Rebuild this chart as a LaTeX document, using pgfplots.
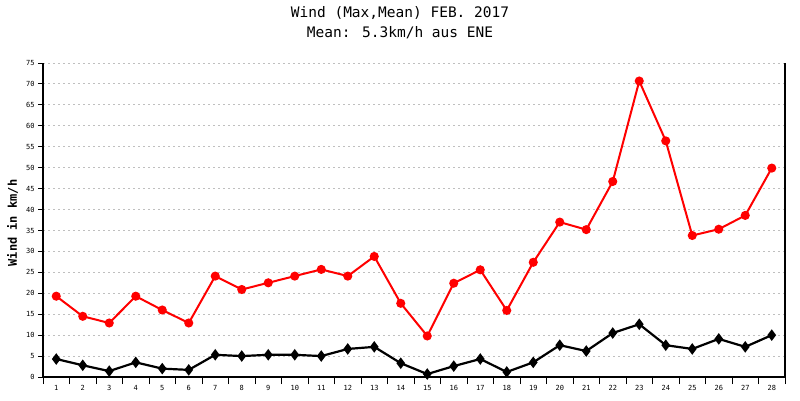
\documentclass[border=0pt]{standalone}
\usepackage{pgfplots}
\pgfplotsset{compat=1.18}
\usepackage{fontspec}
\setmainfont{DejaVu Sans Mono}

% daily wind, Feb 2017: max and mean in km/h
\pgfplotstableread{
day max mean
1  19.3 4.3
2  14.5 2.8
3  12.9 1.4
4  19.3 3.5
5  16.0 2.0
6  12.9 1.7
7  24.1 5.3
8  20.9 5.0
9  22.5 5.3
10 24.1 5.3
11 25.7 5.0
12 24.1 6.7
13 28.8 7.2
14 17.6 3.3
15 9.8  0.7
16 22.4 2.6
17 25.6 4.3
18 15.9 1.2
19 27.4 3.5
20 37.0 7.6
21 35.2 6.2
22 46.7 10.5
23 70.7 12.6
24 56.4 7.6
25 33.8 6.7
26 35.3 9.1
27 38.6 7.2
28 49.9 10.0
}\winddata

\begin{document}
\begin{tikzpicture}
\path[use as bounding box] (0,0) rectangle (800pt,400pt);
\node[anchor=base] at (400pt,382pt) {\fontsize{14.5}{16}\selectfont Wind (Max,Mean) FEB. 2017};
\node[anchor=base] at (400pt,362.3pt) {\fontsize{14.5}{16}\selectfont Mean: 5.3km/h aus ENE};
\node[rotate=90] at (12.5pt,177pt) {\fontsize{12}{14}\selectfont\bfseries Wind in km/h};
\begin{axis}[
  at={(43pt,23pt)}, anchor=south west,
  scale only axis, width=742pt, height=314pt,
  xmin=0.5, xmax=28.5, ymin=0, ymax=75,
  xtick={1,...,28}, minor xtick={0.5,1.5,...,28.5},
  ytick={0,5,...,75},
  tick align=outside, xtick pos=bottom, ytick pos=left,
  major tick length=5pt, minor tick length=7pt,
  major x tick style={draw=none},
  every tick/.style={black, line width=1pt},
  axis line style={draw=none},
  ymajorgrids,
  major grid style={draw=black!25, line width=1pt, dash pattern=on 2pt off 3pt},
  /pgf/number format/assume math mode=true,
  tick label style={font=\fontsize{7}{8}\selectfont},
  clip=false,
]
\addplot[red, line width=2pt, mark=*, mark size=3.5pt, mark options={solid}] table[x=day, y=max] {\winddata};
\addplot[black, line width=2.2pt, mark=diamond*, mark size=4pt, mark options={solid}] table[x=day, y=mean] {\winddata};
\draw[black, line width=1.3pt] (rel axis cs:0,1) -- (rel axis cs:0,0) -- (rel axis cs:1,0) -- (rel axis cs:1,1);
\end{axis}
\end{tikzpicture}
\end{document}
